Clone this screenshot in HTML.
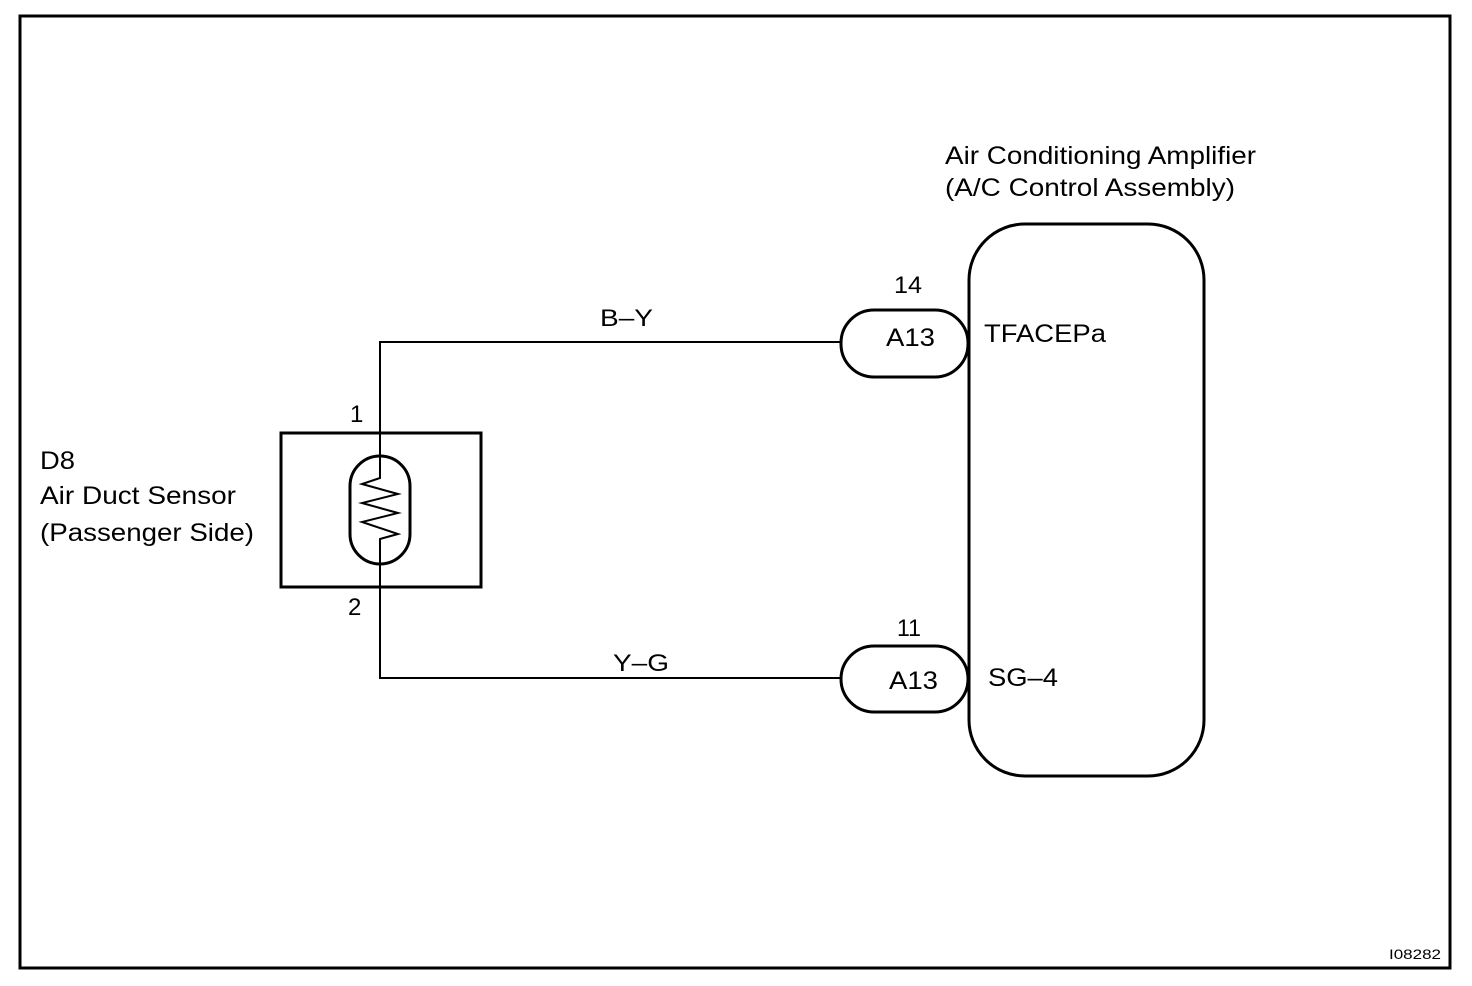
<!DOCTYPE html>
<html><head><meta charset="utf-8"><style>
html,body{margin:0;padding:0;background:#fff}
svg{display:block}
text{font-family:"Liberation Sans",Arial,sans-serif;fill:#000}
</style></head><body>
<svg width="1472" height="986" viewBox="0 0 1472 986" xmlns="http://www.w3.org/2000/svg">
<rect x="20" y="16" width="1430" height="952" fill="none" stroke="#000" stroke-width="3"/>
<rect x="969" y="224" width="235" height="552" rx="56" ry="56" fill="none" stroke="#000" stroke-width="3"/>
<rect x="841" y="310" width="127" height="67" rx="33" ry="33" fill="none" stroke="#000" stroke-width="3"/>
<rect x="841" y="646" width="127" height="66" rx="33" ry="33" fill="none" stroke="#000" stroke-width="3"/>
<rect x="281" y="433" width="200" height="154" fill="none" stroke="#000" stroke-width="3"/>
<rect x="350" y="456" width="60" height="108" rx="30" ry="30" fill="none" stroke="#000" stroke-width="3"/>
<polyline points="840,342 380,342 380,478 362,484 398,494 362,503 398,513 362,522 398,534 380,539 380,678 840,678" fill="none" stroke="#000" stroke-width="2"/>
<text x="945" y="164" font-size="25" textLength="311" lengthAdjust="spacingAndGlyphs">Air Conditioning Amplifier</text>
<text x="945" y="196" font-size="25" textLength="290" lengthAdjust="spacingAndGlyphs">(A/C Control Assembly)</text>
<text x="894" y="293" font-size="24" textLength="28" lengthAdjust="spacingAndGlyphs">14</text>
<text x="886" y="346" font-size="25" textLength="49" lengthAdjust="spacingAndGlyphs">A13</text>
<text x="984" y="342" font-size="25" textLength="122" lengthAdjust="spacingAndGlyphs">TFACEPa</text>
<text x="600" y="326" font-size="24" textLength="53" lengthAdjust="spacingAndGlyphs">B–Y</text>
<text x="613" y="671" font-size="24" textLength="56" lengthAdjust="spacingAndGlyphs">Y–G</text>
<text x="897" y="636" font-size="24" textLength="24" lengthAdjust="spacingAndGlyphs">11</text>
<text x="889" y="689" font-size="25" textLength="49" lengthAdjust="spacingAndGlyphs">A13</text>
<text x="988" y="686" font-size="25" textLength="70" lengthAdjust="spacingAndGlyphs">SG–4</text>
<text x="350" y="422" font-size="24">1</text>
<text x="348" y="615" font-size="24">2</text>
<text x="40" y="469" font-size="25" textLength="35" lengthAdjust="spacingAndGlyphs">D8</text>
<text x="40" y="504" font-size="25" textLength="196" lengthAdjust="spacingAndGlyphs">Air Duct Sensor</text>
<text x="40" y="541" font-size="25" textLength="214" lengthAdjust="spacingAndGlyphs">(Passenger Side)</text>
<text x="1389" y="959" font-size="14" textLength="52" lengthAdjust="spacingAndGlyphs">I08282</text>
</svg>
</body></html>
